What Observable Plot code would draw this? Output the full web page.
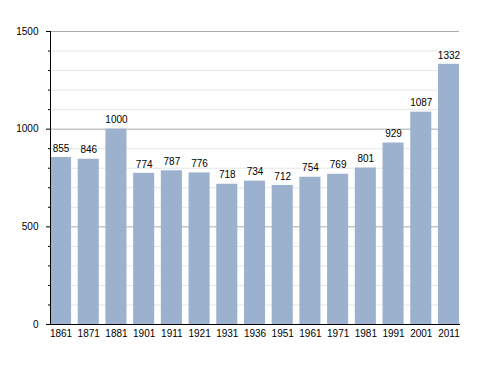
<!DOCTYPE html>
<html><head><meta charset="utf-8">
<script src="https://cdn.jsdelivr.net/npm/d3@7"></script>
<script src="https://cdn.jsdelivr.net/npm/@observablehq/plot@0.6"></script>
<style>body{margin:0;background:#fff;} svg{font-family:"Liberation Sans",Arial,sans-serif;}</style>
</head><body><div id="chart"></div>
<script>
const years = ["1861","1871","1881","1901","1911","1921","1931","1936","1951","1961","1971","1981","1991","2001","2011"];
const population = [855,846,1000,774,787,776,718,734,712,754,769,801,929,1087,1332];
const majorTicks = [0,500,1000,1500];
const minorTicks = [100,200,300,400,600,700,800,900,1100,1200,1300,1400];

const data = years.map((y,i) => ({year:y, value:population[i]}));

const chart = Plot.plot({
  width: 488, height: 373,
  marginLeft: 50, marginRight: 29, marginTop: 31, marginBottom: 49,
  style: {fontSize: "10px", fontFamily: "Liberation Sans, Arial, sans-serif", background: "#fff", color: "#000"},
  x: {domain: years, paddingInner: 0.24, paddingOuter: 0, round: false, label: null},
  y: {domain: [0,1500], label: null},
  marks: [
    Plot.ruleY(minorTicks, {stroke: "#e6e6e6", strokeWidth: 1}),
    Plot.ruleY(majorTicks, {stroke: "#aaaaaa", strokeWidth: 1}),
    Plot.barY(data, {x: "year", y: "value", fill: "#9bb1cd"}),
    Plot.text(data, {x: "year", y: "value", text: d => String(d.value), dy: -9, fill: "#000", fontSize: 10}),
    Plot.axisY({ticks: majorTicks, tickSize: 4, tickPadding: 8, tickFormat: d => String(d), fontSize: 10, label: null, strokeOpacity: 1}),
    Plot.axisY({ticks: minorTicks, tickSize: 2, tickFormat: () => "", label: null, strokeOpacity: 1}),
    Plot.axisX({tickSize: 0, tickPadding: 5, fontSize: 10, label: null}),
    Plot.frame({anchor: "left", stroke: "#000"}),
    Plot.frame({anchor: "bottom", stroke: "#000"})
  ]
});
document.getElementById("chart").appendChild(chart);
</script></body></html>
